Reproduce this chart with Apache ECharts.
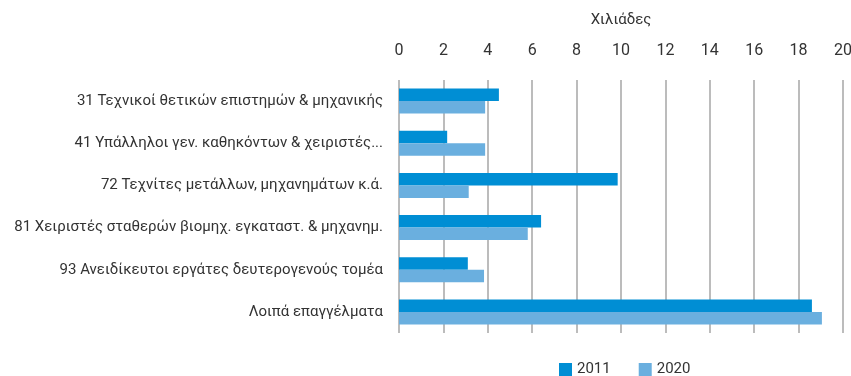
<!DOCTYPE html>
<html>
<head>
<meta charset="utf-8">
<script src="https://cdn.jsdelivr.net/npm/echarts@6/dist/echarts.min.js"></script>
<style>
  html, body { margin: 0; padding: 0; background: #fff; }
  #chart { width: 851px; height: 376px; }
</style>
</head>
<body>
<div id="chart"></div>
<script>
// Occupation groups (thousands of persons)
const categories = [
  '31 Τεχνικοί θετικών επιστημών & μηχανικής',
  '41 Υπάλληλοι γεν. καθηκόντων & χειριστές...',
  '72 Τεχνίτες μετάλλων, μηχανημάτων κ.ά.',
  '81 Χειριστές σταθερών βιομηχ. εγκαταστ. & μηχανημ.',
  '93 Ανειδίκευτοι εργάτες δευτερογενούς τομέα',
  'Λοιπά επαγγέλματα'
];
const values2011 = [4.5, 2.17, 9.85, 6.4, 3.1, 18.6];
const values2020 = [3.88, 3.88, 3.14, 5.8, 3.83, 19.05];
const seriesNames = ['2011', '2020'];
const axisTitle = 'Χιλιάδες';

const FONT = 'Roboto, sans-serif';
const chart = echarts.init(document.getElementById('chart'), null, { renderer: 'canvas' });
chart.setOption({
  animation: false,
  textStyle: { fontFamily: FONT, color: '#333' },
  grid: { left: 399, right: 8, top: 80, bottom: 43, containLabel: false, outerBoundsMode: 'none' },
  legend: {
    data: seriesNames,
    bottom: -6,
    left: 554,
    itemWidth: 13,
    itemHeight: 13,
    itemGap: 28,
    icon: 'rect',
    textStyle: { fontFamily: FONT, fontSize: 15, color: '#333' }
  },
  xAxis: {
    type: 'value',
    position: 'top',
    min: 0,
    max: 20,
    interval: 2,
    name: axisTitle,
    nameLocation: 'middle',
    nameGap: 52,
    nameTextStyle: { fontFamily: FONT, fontSize: 15, color: '#333' },
    axisLine: { show: false },
    axisTick: { show: false },
    axisLabel: { fontFamily: FONT, fontSize: 16, color: '#333', margin: 21 },
    splitLine: { show: true, lineStyle: { color: '#a6a6a6', width: 1.5 } }
  },
  yAxis: {
    type: 'category',
    data: categories,
    inverse: true,
    axisLine: { show: false },
    axisTick: { show: false },
    axisLabel: { fontFamily: FONT, fontSize: 15, color: '#333', margin: 16 }
  },
  series: [
    {
      name: seriesNames[0],
      type: 'bar',
      data: values2011,
      barWidth: 12.5,
      barGap: '0%',
      itemStyle: { color: '#008ed4' }
    },
    {
      name: seriesNames[1],
      type: 'bar',
      data: values2020,
      barWidth: 12.5,
      itemStyle: { color: '#6aafdf' }
    }
  ]
});
</script>
</body>
</html>
